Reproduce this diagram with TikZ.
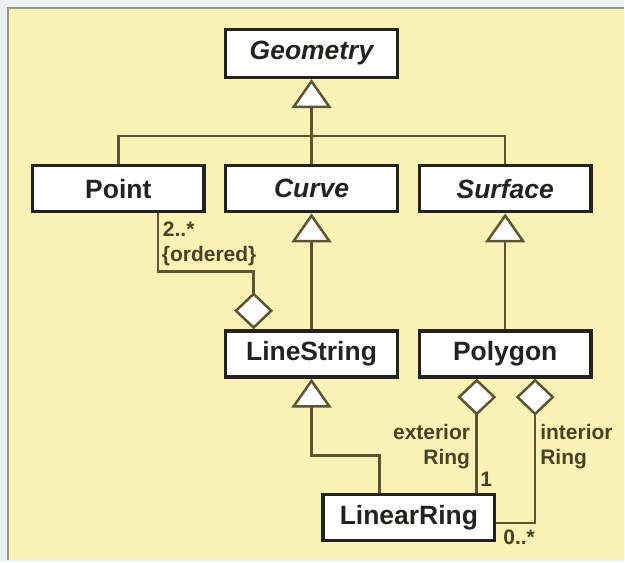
\documentclass[tikz,border=0pt]{standalone}
\usepackage{fontspec}
\setmainfont{Liberation Sans}
\usetikzlibrary{arrows.meta, positioning, calc}
\definecolor{framecolor}{RGB}{236, 241, 244}
\definecolor{panelcolor}{RGB}{251, 243, 181}
\definecolor{edgecolor}{RGB}{150, 150, 138}
\definecolor{linkcolor}{RGB}{92, 84, 50}
\definecolor{rolecolor}{RGB}{72, 66, 36}
\definecolor{boxcolor}{RGB}{35, 35, 30}

\begin{document}
\begin{tikzpicture}[
    x=1pt, y=-1pt,
    umlclass/.style={draw=boxcolor, line width=3.5pt, fill=white, minimum width=172pt, minimum height=46pt, inner sep=0pt, text=boxcolor, font=\fontsize{26.5}{30}\selectfont\bfseries},
    abstract/.style={umlclass, font=\fontsize{26.5}{30}\selectfont\bfseries\itshape},
    link/.style={draw=linkcolor, line width=2.5pt},
    gen/.style={link, -{Triangle[fill=white, length=29pt, width=40pt]}},
    agg/.style={link, -{Diamond[fill=white, length=37pt, width=39pt]}},
    role/.style={inner sep=0pt, text=rolecolor, font=\fontsize{21}{25}\selectfont\bfseries},
]
    % Panel
    \fill[framecolor] (0,0) rectangle (625,563);
    \fill[panelcolor] (8,8) rectangle (625,561);
    \draw[edgecolor, line width=2pt] (8,561) -- (8,8) -- (625,8);

    % Classes
    \node[abstract, minimum height=48pt] (geometry) at (312,53.5) {Geometry};
    \node[umlclass] (point) at (118.5,189) {Point};
    \node[abstract] (curve) at (312,189) {Curve};
    \node[abstract] (surface) at (506,189) {Surface};
    \node[umlclass] (linestring) at (312,354.5) {LineString};
    \node[umlclass] (polygon) at (506,354.5) {Polygon};
    \node[umlclass] (linearring) at (409.5,518.5) {LinearRing};

    % Generalizations
    \coordinate (hub) at (312,136);
    \draw[link] (point.north) |- (hub) -| (surface.north);
    \draw[link] (curve.north) -- (hub);
    \draw[gen] (hub) -- (geometry.south);
    \draw[gen] (linestring.north) -- (curve.south);
    \draw[gen] (polygon.north) -- (surface.south);
    \coordinate (ringbend) at (312,456);
    \draw[gen] ($(linearring.north)+(-29.5,0)$) |- (ringbend) -- (linestring.south);

    % Aggregations
    \coordinate (orderbend) at (254,272);
    \draw[agg] ($(point.south)+(39.5,0)$) |- (orderbend) -- (linestring.north -| orderbend);
    \coordinate (extend) at ($(polygon.south)+(-28.5,0)$);
    \draw[agg] (linearring.north -| extend) -- (extend);
    \coordinate (intend) at ($(polygon.south)+(30,0)$);
    \draw[agg] ($(linearring.east)+(0,5.5)$) -| (intend);

    % Roles and multiplicities
    \node[role, anchor=west] (pointmult) at (163,230) {2..*};
    \node[role, anchor=west] (ordered) at (162,256) {\{ordered\}};
    \node[role, anchor=east, align=right] (extlabel) at (471,447) {exterior\\Ring};
    \node[role] (extmult) at (487,480) {1};
    \node[role, anchor=west, align=left] (intlabel) at (541,447) {interior\\Ring};
    \node[role, anchor=west] (intmult) at (504,538) {0..*};
\end{tikzpicture}
\end{document}
